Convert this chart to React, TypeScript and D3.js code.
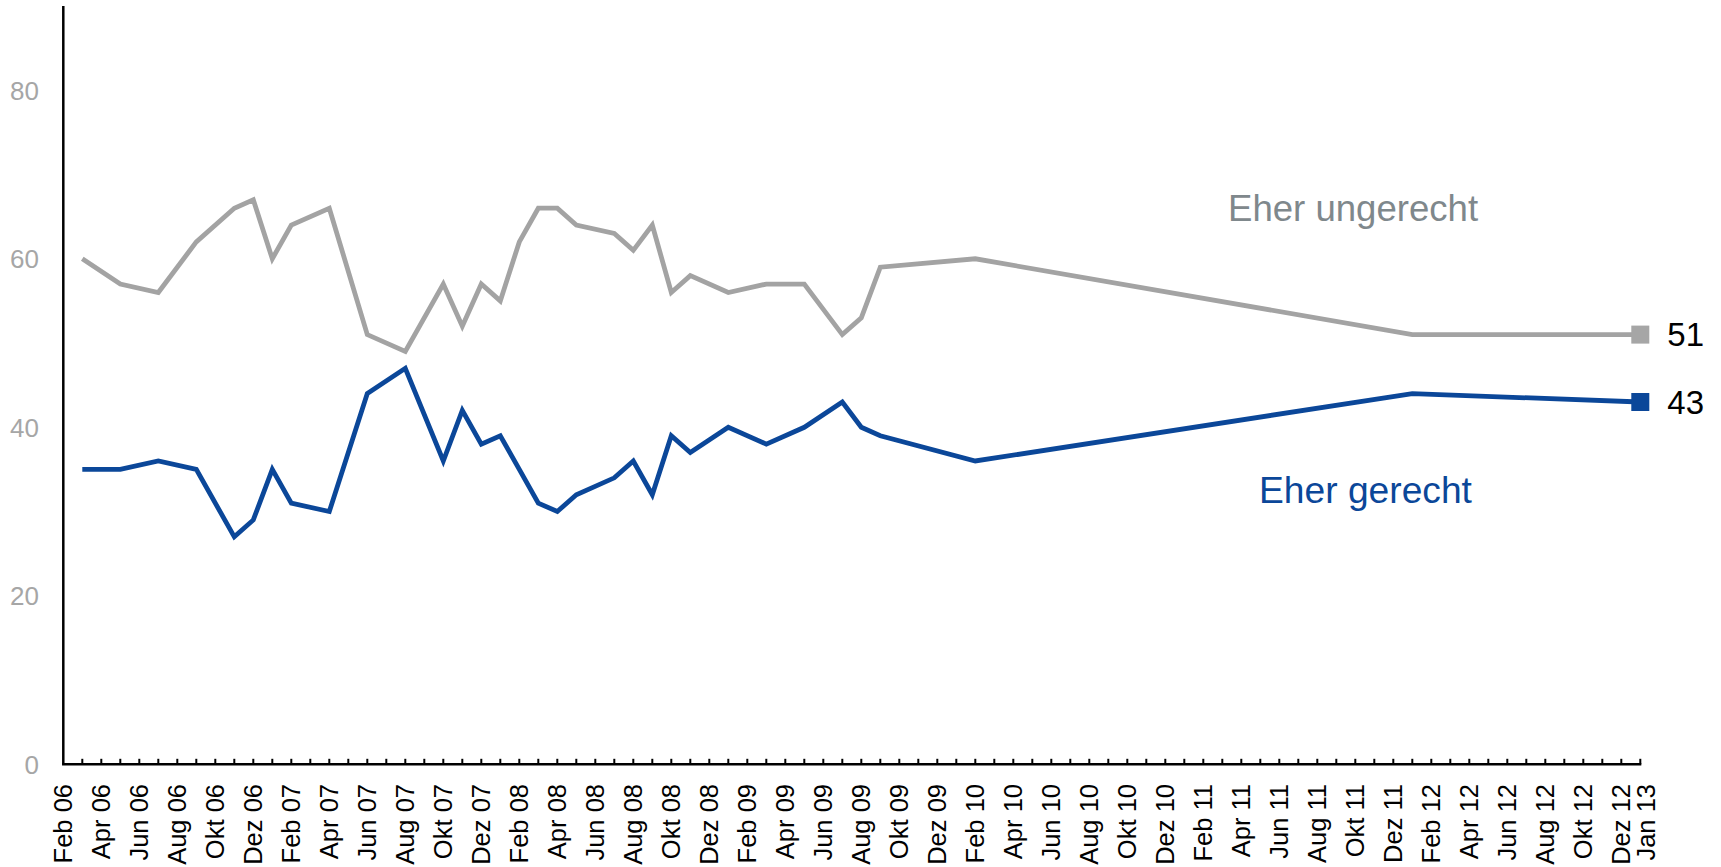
import React from "react";
import * as d3 from "d3";

// ---- data (survey months as YYYY-MM) ----
const surveyMonths = [
  "2006-03", "2006-05", "2006-07", "2006-09", "2006-11", "2006-12",
  "2007-01", "2007-02", "2007-04", "2007-06", "2007-08", "2007-10", "2007-11", "2007-12",
  "2008-01", "2008-02", "2008-03", "2008-04", "2008-05", "2008-07", "2008-08", "2008-09", "2008-10", "2008-11",
  "2009-01", "2009-03", "2009-05", "2009-07", "2009-08", "2009-09",
  "2010-02", "2012-01", "2013-01",
];
const eherUngerecht = [
  60, 57, 56, 62, 66, 67,
  60, 64, 66, 51, 49, 57, 52, 57,
  55, 62, 66, 66, 64, 63, 61, 64, 56, 58,
  56, 57, 57, 51, 53, 59,
  60, 51, 51,
];
const eherGerecht = [
  35, 35, 36, 35, 27, 29,
  35, 31, 30, 44, 47, 36, 42, 38,
  39, 35, 31, 30, 32, 34, 36, 32, 39, 37,
  40, 38, 40, 43, 40, 39,
  36, 44, 43,
];
const yTicks = [0, 20, 40, 60, 80];
const monthNames = ["Jan", "Feb", "Mär", "Apr", "Mai", "Jun", "Jul", "Aug", "Sep", "Okt", "Nov", "Dez"];
const axisStart = "2006-02";
const axisEnd = "2013-01";
const seriesNames = ["Eher ungerecht", "Eher gerecht"];

// ---- helpers ----
const monthIndex = (s: string) => {
  const [y, m] = s.split("-").map(Number);
  const [y0, m0] = axisStart.split("-").map(Number);
  return (y - y0) * 12 + (m - m0);
};
const labelFor = (idx: number) => {
  const [y0, m0] = axisStart.split("-").map(Number);
  const total = y0 * 12 + (m0 - 1) + idx;
  const y = Math.floor(total / 12);
  const m = total % 12;
  return `${monthNames[m]} ${String(y % 100).padStart(2, "0")}`;
};

const W = 1721;
const H = 867;
const FONT = "'Liberation Sans', Arial, Helvetica, sans-serif";
const GREY = "#a3a3a3";
const BLUE = "#0b4799";

export default function App() {
  const lastIdx = monthIndex(axisEnd);
  const x = d3.scaleLinear().domain([0, lastIdx]).range([63.3, 1640.3]);
  const y = d3.scaleLinear().domain([0, 90]).range([764.3, 6]);

  const idxs = surveyMonths.map(monthIndex);
  const line = d3
    .line<number>()
    .x((_, i) => x(idxs[i]))
    .y((d) => y(d));

  const ticks = d3.range(1, lastIdx + 1);
  const labelIdx = d3.range(0, lastIdx, 2);

  const lastI = surveyMonths.length - 1;
  const sq = 18;

  return (
    <svg
      width={W}
      height={H}
      style={{ position: "absolute", left: 0, top: 0, background: "#fff" }}
      fontFamily={FONT}
    >
      {/* y labels */}
      {yTicks.map((t) => (
        <text
          key={t}
          x={39}
          y={y(t)}
          dy="0.36em"
          textAnchor="end"
          fontSize={26}
          fill="#a6a6a6"
        >
          {t}
        </text>
      ))}

      {/* lines */}
      <path d={line(eherUngerecht) || ""} fill="none" stroke={GREY} strokeWidth={4.8} strokeLinejoin="miter" />
      <path d={line(eherGerecht) || ""} fill="none" stroke={BLUE} strokeWidth={4.8} strokeLinejoin="miter" />

      {/* end markers */}
      <rect x={x(idxs[lastI]) - sq / 2} y={y(eherUngerecht[lastI]) - sq / 2} width={sq} height={sq} fill="#a6a6a6" />
      <rect x={x(idxs[lastI]) - sq / 2} y={y(eherGerecht[lastI]) - sq / 2} width={sq} height={sq} fill={BLUE} />
      <text x={x(idxs[lastI]) + 27} y={y(eherUngerecht[lastI])} dy="0.36em" fontSize={33} fill="#000">
        {eherUngerecht[lastI]}
      </text>
      <text x={x(idxs[lastI]) + 27} y={y(eherGerecht[lastI])} dy="0.36em" fontSize={33} fill="#000">
        {eherGerecht[lastI]}
      </text>

      {/* series labels */}
      <text x={1228} y={221} fontSize={36.6} fill="#7f888c">
        {seriesNames[0]}
      </text>
      <text x={1259} y={503} fontSize={37.2} fill={BLUE}>
        {seriesNames[1]}
      </text>

      {/* axes */}
      <line x1={x(0)} x2={x(0)} y1={y(90)} y2={y(0)} stroke="#000" strokeWidth={2.5} />
      <line x1={x(0) - 1.25} x2={x(lastIdx) + 1} y1={y(0)} y2={y(0)} stroke="#000" strokeWidth={2.5} />
      {ticks.map((t) => (
        <line key={t} x1={x(t)} x2={x(t)} y1={y(0)} y2={y(0) - 5.5} stroke="#000" strokeWidth={2} />
      ))}

      {/* x labels */}
      {labelIdx.map((t) => (
        <text
          key={t}
          transform={`translate(${x(t)},784) rotate(-90)`}
          textAnchor="end"
          dy="0.36em"
          fontSize={25.5}
          fill="#000"
        >
          {labelFor(t)}
        </text>
      ))}
      <text
        transform={`translate(${x(lastIdx) + 6},784) rotate(-90)`}
        textAnchor="end"
        dy="0.36em"
        fontSize={25.5}
        fill="#000"
      >
        {labelFor(lastIdx)}
      </text>
    </svg>
  );
}
